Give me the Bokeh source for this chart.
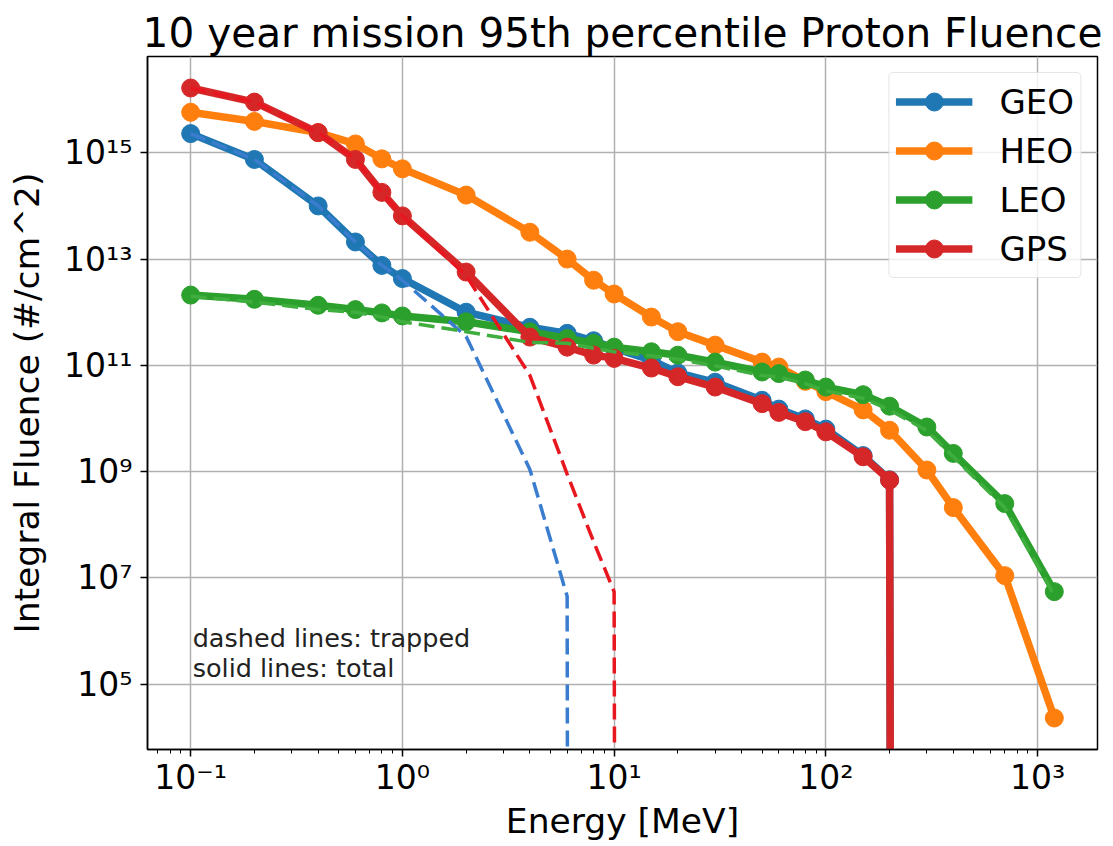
import numpy as np
from bokeh.plotting import figure
from bokeh.models import FixedTicker, CustomJSTickFormatter, Label
from bokeh.embed import file_html
from bokeh.resources import INLINE

# ---------------- data ----------------
energy = [0.1, 0.2, 0.4, 0.6, 0.8, 1, 2, 4, 6, 8, 10, 15, 20, 30, 50, 60, 80, 100,
          150, 200, 300, 400, 700, 1200]

geo_total = [2.3e15, 7.5e14, 1.0e14, 2.1e13, 7.6e12, 4.3e12, 1.0e12, 5.2e11, 4.0e11,
             2.9e11, 2.1e11, 1.25e11, 7.2e10, 4.8e10, 2.2e10, 1.5e10, 9.8e9, 6.3e9,
             2.0e9, 7.0e8, 0, 0, 0, 0]
heo_total = [5.8e15, 3.9e15, 2.4e15, 1.47e15, 7.7e14, 5.0e14, 1.6e14, 3.2e13, 1.0e13,
             4.0e12, 2.2e12, 8.1e11, 4.3e11, 2.4e11, 1.15e11, 9.3e10, 5.0e10, 3.2e10,
             1.45e10, 6.0e9, 1.07e9, 2.1e8, 1.1e7, 2.3e4]
leo_total = [2.1e12, 1.75e12, 1.35e12, 1.12e12, 9.7e11, 8.5e11, 6.6e11, 4.3e11, 3.2e11,
             2.6e11, 2.2e11, 1.8e11, 1.55e11, 1.15e11, 7.5e10, 7.0e10, 5.3e10, 3.9e10,
             2.8e10, 1.7e10, 6.9e9, 2.2e9, 2.5e8, 5.5e6]
gps_total = [1.66e16, 9.0e15, 2.4e15, 7.5e14, 1.8e14, 6.5e13, 5.7e12, 3.4e11, 2.2e11,
             1.56e11, 1.35e11, 8.9e10, 6.1e10, 3.9e10, 1.9e10, 1.3e10, 8.7e9, 5.6e9,
             1.9e9, 6.9e8, 0, 0, 0, 0]

geo_trapped = [2.3e15, 7.5e14, 1.0e14, 2.1e13, 7.6e12, 4.0e12, 3.5e11, 1.1e9, 4.5e6,
               0, 0, 0, 0, 0, 0, 0, 0, 0, 0, 0, 0, 0, 0, 0]
leo_trapped = [2.0e12, 1.55e12, 1.12e12, 1.0e12, 8.1e11, 6.6e11, 4.3e11, 2.7e11, 2.6e11,
               2.1e11, 1.8e11, 1.5e11, 1.3e11, 9.8e10, 6.4e10, 6.0e10, 4.5e10, 3.3e10,
               2.4e10, 1.45e10, 5.9e9, 1.9e9, 2.1e8, 4.7e6]
gps_trapped = [1.66e16, 9.0e15, 2.4e15, 7.5e14, 1.8e14, 6.5e13, 4.9e12, 6.5e10, 9.0e8,
               4.8e7, 5.5e6, 0, 0, 0, 0, 0, 0, 0, 0, 0, 0, 0, 0, 0]

series_names = ["GEO", "HEO", "LEO", "GPS"]
series_totals = [geo_total, heo_total, leo_total, gps_total]
series_colors = ["#1f77b4", "#ff7f0e", "#2ca02c", "#d62728"]

trapped_series = [geo_trapped, leo_trapped, gps_trapped]
trapped_colors = ["#3a7dcf", "#3fae3f", "#e8161e"]

title_text = "10 year mission 95th percentile Proton Fluence"
x_label = "Energy [MeV]"
y_label = "Integral Fluence (#/cm^2)"
note_lines = ["dashed lines: trapped", "solid lines: total"]

# ------------- helpers -------------
# log axis: non-positive values are clipped far below the axis (like matplotlib 'clip')
LOG_CLIP = 1e-300


def clipped(vals):
    return [v if v > 0 else LOG_CLIP for v in vals]


all_pos = [v for s in series_totals + trapped_series for v in s if v > 0]
ylo, yhi = np.log10(min(all_pos)), np.log10(max(all_pos))
ypad = 0.05 * (yhi - ylo)
xlo, xhi = np.log10(min(energy)), np.log10(max(energy))
xpad = 0.05 * (xhi - xlo)

FONT = "DejaVu Sans"

p = figure(width=1104, height=845,
           x_axis_type="log", y_axis_type="log",
           x_range=(10 ** (xlo - xpad), 10 ** (xhi + xpad)),
           y_range=(10 ** (ylo - ypad), 10 ** (yhi + ypad)),
           output_backend="svg", toolbar_location=None,
           min_border_left=147, min_border_right=7,
           min_border_top=56, min_border_bottom=96,
           title=title_text)

p.title.align = "center"
p.title.text_font = FONT
p.title.text_font_size = "40.6px"
p.title.text_font_style = "normal"
p.title.text_color = "black"
p.title.standoff = 0

# solid lines with markers
for name, vals, col in zip(series_names, series_totals, series_colors):
    yv = clipped(vals)
    p.line(energy, yv, line_color=col, line_width=7.5, legend_label=name)
    p.scatter(energy, yv, size=18, fill_color=col, line_color=col, legend_label=name)

# dashed trapped lines
for vals, col in zip(trapped_series, trapped_colors):
    p.line(energy, clipped(vals), line_color=col, line_width=3.5, line_dash="16 7")

# annotation text
for i, txt in enumerate(reversed(note_lines)):
    p.add_layout(Label(x=min(energy), y=1e5, text=txt, x_offset=2,
                       y_offset=16 + 30 * i, text_font=FONT,
                       text_font_size="25.5px", text_color="#222222",
                       text_baseline="alphabetic"))

# axes
sup_js = """
const sup = {"0":"\u2070","1":"\u00b9","2":"\u00b2","3":"\u00b3","4":"\u2074",
             "5":"\u2075","6":"\u2076","7":"\u2077","8":"\u2078","9":"\u2079","-":"\u207b"};
const e = Math.round(Math.log10(tick));
return "10" + String(e).split("").map(c => sup[c]).join("");
"""
x_major = [0.1, 1, 10, 100, 1000]
x_minor = [m * d for d in [0.01, 0.1, 1, 10, 100, 1000] for m in range(2, 10)]
y_major = [1e5, 1e7, 1e9, 1e11, 1e13, 1e15]

p.xaxis.ticker = FixedTicker(ticks=x_major, minor_ticks=x_minor)
p.yaxis.ticker = FixedTicker(ticks=y_major, minor_ticks=[])
for ax in (p.xaxis, p.yaxis):
    ax.formatter = CustomJSTickFormatter(code=sup_js)
    ax.major_label_text_font = FONT
    ax.major_label_text_font_size = "33px"
    ax.major_label_text_color = "black"
    ax.axis_label_text_font = FONT
    ax.axis_label_text_font_size = "34.5px"
    ax.axis_label_text_font_style = "normal"
    ax.axis_label_text_color = "black"
    ax.major_tick_out = 7
    ax.major_tick_in = 0
    ax.minor_tick_out = 4
    ax.minor_tick_in = 0
    ax.major_tick_line_width = 1.5
    ax.minor_tick_line_width = 1
    ax.axis_line_width = 1.5
    ax.axis_line_color = "black"
    ax.major_tick_line_color = "black"
    ax.minor_tick_line_color = "black"

p.xaxis.axis_label = x_label
p.yaxis.axis_label = y_label
p.xaxis.major_label_standoff = 1
p.xaxis.axis_label_standoff = 1
p.yaxis.major_label_standoff = 8
p.yaxis.axis_label_standoff = 14

p.grid.grid_line_color = "#b0b0b0"
p.grid.grid_line_width = 1.5
p.outline_line_color = "black"
p.outline_line_width = 1.5

leg = p.legend[0]
leg.location = "top_right"
leg.label_text_font = FONT
leg.label_text_font_size = "34px"
leg.label_text_color = "black"
leg.glyph_width = 77
leg.glyph_height = 45
leg.label_height = 45
leg.spacing = 4
leg.padding = 6
leg.margin = 16
leg.label_standoff = 27
leg.border_line_color = "#cccccc"
leg.border_line_width = 1.5
leg.background_fill_alpha = 0.8
try:
    leg.border_radius = 5
except Exception:
    pass

open("out.html", "w").write(file_html(p, INLINE))
